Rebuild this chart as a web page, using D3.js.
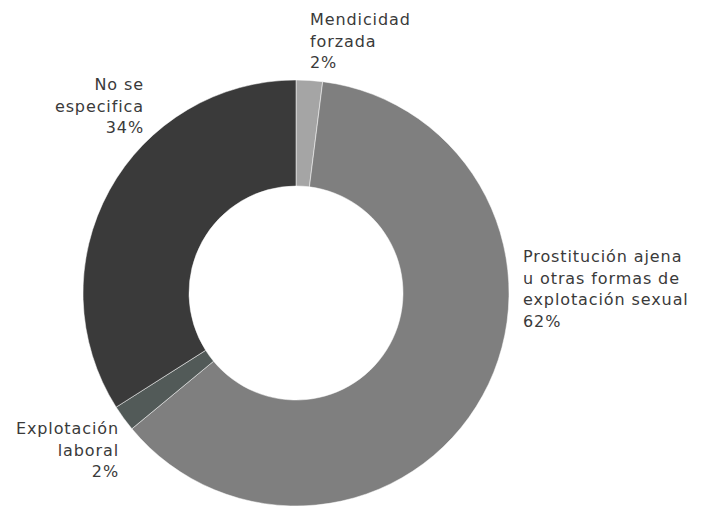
<!DOCTYPE html>
<html>
<head>
<meta charset="utf-8">
<script src="https://cdn.jsdelivr.net/npm/d3@7"></script>
<style>
  body { margin: 0; background: #fff; }
  text { font-family: "DejaVu Sans", sans-serif; fill: #3a3a3a; }
</style>
</head>
<body>
<svg id="chart" width="706" height="506"></svg>
<script>
// data
const categories = [
  "Mendicidad forzada",
  "Prostitución ajena u otras formas de explotación sexual",
  "Explotación laboral",
  "No se especifica"
];
const values = [2, 62, 2, 34];
const colors = ["#a5a5a5", "#7f7f7f", "#525a58", "#3a3a3a"];
const labelLines = [
  ["Mendicidad", "forzada"],
  ["Prostitución ajena", "u otras formas de", "explotación sexual"],
  ["Explotación", "laboral"],
  ["No se", "especifica"]
];

const width = 706, height = 506;
const cx = 296, cy = 293;
const outerR = 213, innerR = 107;

const svg = d3.select("#chart");
const g = svg.append("g").attr("transform", `translate(${cx},${cy})`);

const pie = d3.pie().sort(null).value((d) => d);
const arcs = pie(values);
const arc = d3.arc().innerRadius(innerR).outerRadius(outerR);

// Slices
g.selectAll(".slice")
  .data(arcs)
  .enter()
  .append("path")
  .attr("class", "slice")
  .attr("d", arc)
  .attr("fill", (d, i) => colors[i])
  .attr("stroke", "#ffffff")
  .attr("stroke-width", 0.5);

// Label placement (first-line baseline, anchor)
const labelPos = [
  { x: 310, y: 25, anchor: "start" },
  { x: 523, y: 262, anchor: "start" },
  { x: 119, y: 434, anchor: "end" },
  { x: 144, y: 90, anchor: "end" }
];
const lineH = 21.5;

labelPos.forEach((p, i) => {
  const t = svg.append("text")
    .attr("x", p.x)
    .attr("y", p.y)
    .attr("text-anchor", p.anchor)
    .style("font-size", "16px")
    .style("letter-spacing", "0.9px");
  const lines = labelLines[i].concat([d3.format(".0f")(values[i]) + "%"]);
  lines.forEach((ln, j) => {
    t.append("tspan")
      .attr("x", p.x)
      .attr("dy", j === 0 ? 0 : lineH)
      .text(ln);
  });
});
</script>
</body>
</html>
